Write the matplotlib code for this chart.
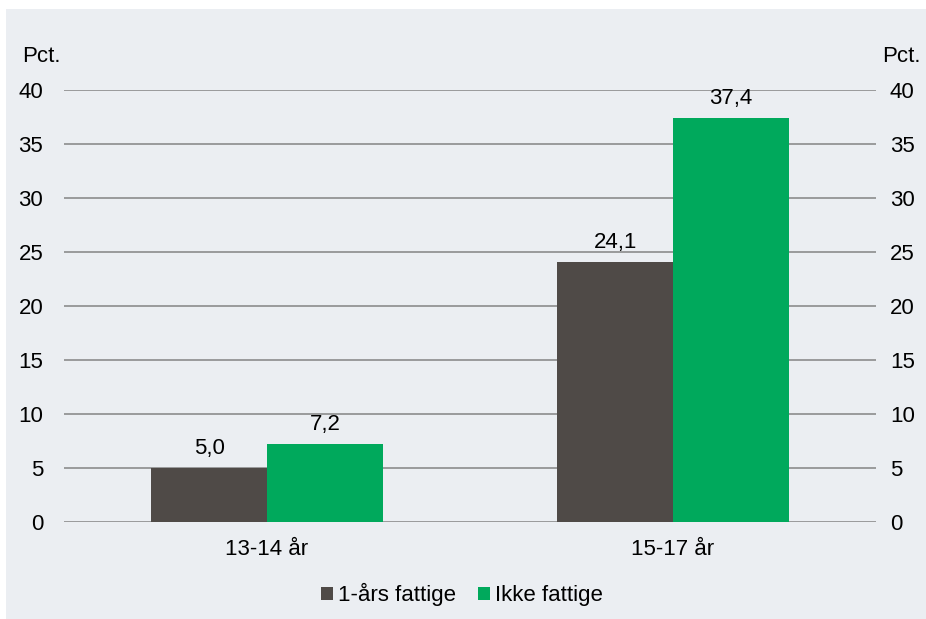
import numpy as np
import matplotlib.pyplot as plt
from matplotlib.patches import Rectangle

plt.rcParams['font.family'] = ['Liberation Sans', 'DejaVu Sans']

categories = ['13-14 år', '15-17 år']
fattige = [5.0, 24.1]
ikke_fattige = [7.2, 37.4]
series_names = ['1-års fattige', 'Ikke fattige']
yticks = [0, 5, 10, 15, 20, 25, 30, 35, 40]

col_dark = '#4F4A47'
col_green = '#00A95C'
bg = '#EBEEF2'
fs = 16

fig = plt.figure(figsize=(9.26, 6.19), dpi=100)
fig.patches.append(Rectangle((6/926, 0), 1, 1 - 9/619, transform=fig.transFigure,
                             facecolor=bg, edgecolor='none', zorder=-10))

ax = fig.add_axes([64/926, 97/619, 812/926, 432/619])
ax.set_facecolor('none')

x = np.arange(len(categories))
w = 0.285
b1 = ax.bar(x - w/2, fattige, w, color=col_dark, label=series_names[0], zorder=3)
b2 = ax.bar(x + w/2, ikke_fattige, w, color=col_green, label=series_names[1], zorder=3)

for bars in (b1, b2):
    for r in bars:
        v = r.get_height()
        ax.annotate(f'{v:.1f}'.replace('.', ','), (r.get_x() + r.get_width()/2, v),
                    xytext=(0, 10), textcoords='offset points',
                    ha='center', va='baseline', fontsize=fs)

ax.set_xlim(-0.5, 1.5)
ax.set_ylim(0, 40)
ax.set_yticks(yticks)
ax.set_xticks(x)
ax.set_xticklabels(categories, fontsize=fs)
ax.tick_params(axis='y', length=0, labelsize=fs, pad=15)
ax.tick_params(axis='x', length=0, pad=12)
ax.grid(axis='y', color='#8C8C8C', linewidth=1.2, zorder=0)
for s in ax.spines.values():
    s.set_visible(False)

ax2 = ax.twinx()
ax2.set_ylim(0, 40)
ax2.set_yticks(yticks)
ax2.tick_params(axis='y', length=0, labelsize=fs, pad=10)
for s in ax2.spines.values():
    s.set_visible(False)

fig.text(22/926, 1 - 56/619, 'Pct.', fontsize=fs, va='center', ha='left')
fig.text(921/926, 1 - 56/619, 'Pct.', fontsize=fs, va='center', ha='right')

ax.legend(loc='upper center', bbox_to_anchor=(0.49, -0.095), ncol=2, frameon=False,
          fontsize=fs, handlelength=0.55, handleheight=0.55, handletextpad=0.2,
          columnspacing=1.0)

fig.savefig('out.png', dpi=100)
